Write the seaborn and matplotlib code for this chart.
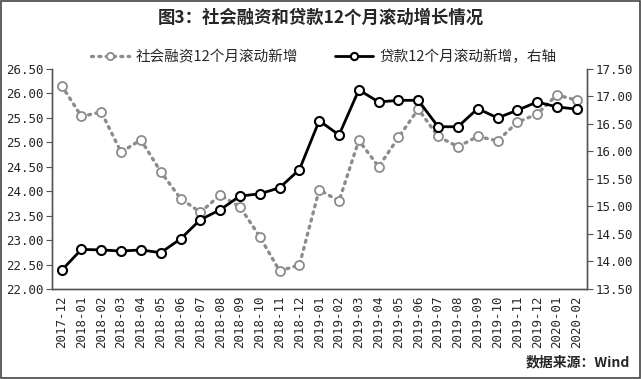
import numpy as np
import pandas as pd
import seaborn as sns
import matplotlib.pyplot as plt
from matplotlib.patches import Rectangle

months = ["2017-12", "2018-01", "2018-02", "2018-03", "2018-04", "2018-05", "2018-06",
          "2018-07", "2018-08", "2018-09", "2018-10", "2018-11", "2018-12", "2019-01",
          "2019-02", "2019-03", "2019-04", "2019-05", "2019-06", "2019-07", "2019-08",
          "2019-09", "2019-10", "2019-11", "2019-12", "2020-01", "2020-02"]
# 社会融资12个月滚动新增 (left axis)
social_financing = [26.16, 25.53, 25.62, 24.80, 25.05, 24.40, 23.85, 23.57, 23.92, 23.68,
                    23.07, 22.37, 22.49, 24.03, 23.80, 25.04, 24.50, 25.10, 25.68, 25.12,
                    24.91, 25.12, 25.03, 25.41, 25.58, 25.97, 25.86]
# 贷款12个月滚动新增 (right axis)
loans = [13.84, 14.22, 14.21, 14.19, 14.21, 14.16, 14.41, 14.76, 14.94, 15.19, 15.23,
         15.34, 15.67, 16.56, 16.30, 17.12, 16.90, 16.93, 16.93, 16.45, 16.45, 16.78,
         16.61, 16.75, 16.90, 16.81, 16.77]
left_ticks = [22.0, 22.5, 23.0, 23.5, 24.0, 24.5, 25.0, 25.5, 26.0, 26.5]
right_ticks = [13.5, 14.0, 14.5, 15.0, 15.5, 16.0, 16.5, 17.0, 17.5]

title = "图3：社会融资和贷款12个月滚动增长情况"
label_sf = "社会融资12个月滚动新增"
label_loan = "贷款12个月滚动新增，右轴"
source = "数据来源：Wind"

sns.set_style("white")
plt.rcParams["font.family"] = ["Noto Sans CJK SC", "DejaVu Sans"]

df = pd.DataFrame({"month": months, "sf": social_financing, "loan": loans})
df["pos"] = np.arange(len(df))

fig = plt.figure(figsize=(6.41, 3.79), dpi=100)
ax = fig.add_axes([0.0807, 0.2375, 0.8346, 0.5805])
ax2 = ax.twinx()

gray = "#8c8c8c"
sns.lineplot(data=df, x="pos", y="sf", ax=ax, color=gray, linewidth=2.4,
             linestyle=(0, (0.6, 1.6)), dash_capstyle="round", marker="o",
             markersize=6.5, markerfacecolor="white", markeredgecolor=gray,
             markeredgewidth=1.3, label=label_sf, legend=False, sort=False)
sns.lineplot(data=df, x="pos", y="loan", ax=ax2, color="black", linewidth=2,
             marker="o", markersize=6.5, markerfacecolor="white",
             markeredgecolor="black", markeredgewidth=1.5, label=label_loan,
             legend=False, sort=False)

ax.set_xlim(-0.5, len(months) - 0.5)
ax.set_ylim(22, 26.5)
ax2.set_ylim(13.5, 17.5)
ax.set_yticks(left_ticks)
ax.set_yticklabels([f"{v:.2f}" for v in left_ticks])
ax2.set_yticks(right_ticks)
ax2.set_yticklabels([f"{v:.2f}" for v in right_ticks])

# month labels at category centres, tick marks on the category boundaries
ax.set_xticks(df["pos"])
ax.set_xticklabels(months, rotation=90)
ax.set_xticks(np.arange(len(months) + 1) - 0.5, minor=True)
ax.tick_params(axis="x", which="major", length=0, pad=5)
ax.tick_params(axis="x", which="minor", direction="in", length=4, color="#555555")
ax.tick_params(axis="y", direction="out", length=4, color="#555555", pad=2)
ax2.tick_params(axis="y", direction="out", length=4, color="#555555", pad=2)
ax.set_xlabel("")
ax.set_ylabel("")
ax2.set_ylabel("")

for a in (ax, ax2):
    for lbl in a.get_xticklabels() + a.get_yticklabels():
        lbl.set_family("DejaVu Sans Mono")
        lbl.set_fontsize(9)
    a.spines["top"].set_visible(False)
    for s in ("left", "right", "bottom"):
        a.spines[s].set_color("#555555")
        a.spines[s].set_linewidth(1)

h1, l1 = ax.get_legend_handles_labels()
h2, l2 = ax2.get_legend_handles_labels()
leg = fig.legend(h1 + h2, l1 + l2, loc="center", bbox_to_anchor=(0.505, 0.85), ncol=2,
                 frameon=False, fontsize=10.5, handlelength=2.6, columnspacing=2.5,
                 handletextpad=0.45, markerscale=0.8)

fig.text(0.5, 0.953, title, ha="center", va="center", fontsize=12.5,
         fontweight="bold")
fig.text(0.983, 0.045, source, ha="right", va="center", fontsize=10,
         fontweight="bold")
fig.patches.append(Rectangle((0.001, 0.002), 0.997, 0.995, transform=fig.transFigure,
                             fill=False, edgecolor="#444444", linewidth=1.2))

fig.savefig("out.png", dpi=100)
